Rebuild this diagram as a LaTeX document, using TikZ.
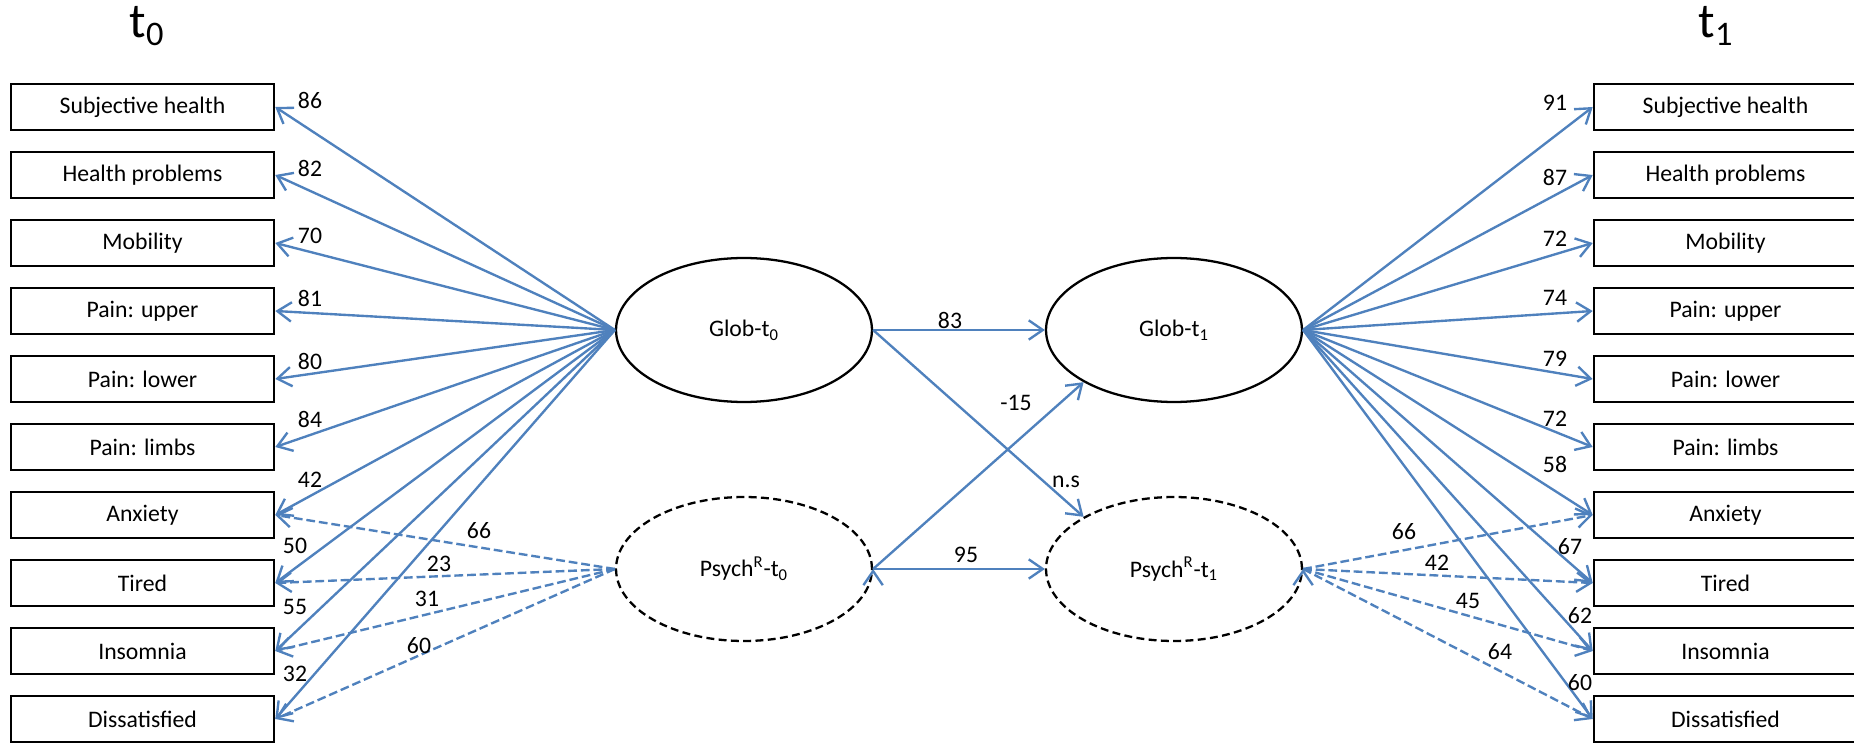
\documentclass[tikz,border=0pt]{standalone}
\usepackage{fontspec}
\setmainfont{Carlito}
\usepackage{tikz}
\usetikzlibrary{arrows.meta,shapes.geometric}
\definecolor{pathblue}{RGB}{79,129,189}
\tikzstyle{indicator}=[rectangle,
draw=black,
line width=1.5pt,
minimum width=5.26cm,
minimum height=0.92cm,
inner sep=0pt]
\tikzstyle{factor}=[ellipse,
draw=black,
line width=1.3pt,
minimum width=5.12cm,
minimum height=2.88cm,
inner sep=0pt]
\tikzstyle{residual}=[factor,
dash pattern=on 4.5pt off 2.5pt]
\tikzstyle{loading}=[->,
draw=pathblue,
line width=1.35pt]
\tikzstyle{resloading}=[loading,
dash pattern=on 5pt off 2.2pt]
\tikzstyle{coef}=[inner sep=0pt]
\tikzstyle{wave}=[inner sep=0pt,
font=\fontsize{28}{30}\selectfont]

\begin{document}
\begin{tikzpicture}[>={Straight Barb[length=8pt,width=11pt]},x=0.02cm,y=-0.02cm,
	font=\fontsize{13.5}{16}\selectfont]
	% one unit is one pixel of the original figure, y runs downwards
	\useasboundingbox (0,0) rectangle (1854,743);
	
	% The two measurement occasions:
	\node (tzero) [wave,anchor=base] at (147,38) {t\textsubscript{0}};
	\node (tone)  [wave,anchor=base] at (1716,38) {t\textsubscript{1}};
	
	% Indicators at t0 (left column):
	\node (l1)  [indicator] at (142.5,107) {Subjective health};
	\node (l2)  [indicator] at (142.5,175) {Health problems};
	\node (l3)  [indicator] at (142.5,243) {Mobility};
	\node (l4)  [indicator] at (142.5,311) {Pain: upper};
	\node (l5)  [indicator] at (142.5,379) {Pain: lower};
	\node (l6)  [indicator] at (142.5,447) {Pain: limbs};
	\node (l7)  [indicator] at (142.5,515) {Anxiety};
	\node (l8)  [indicator] at (142.5,583) {Tired};
	\node (l9)  [indicator] at (142.5,651) {Insomnia};
	\node (l10) [indicator] at (142.5,719) {Dissatisfied};
	
	% Indicators at t1 (right column):
	\node (r1)  [indicator] at (1725.5,107) {Subjective health};
	\node (r2)  [indicator] at (1725.5,175) {Health problems};
	\node (r3)  [indicator] at (1725.5,243) {Mobility};
	\node (r4)  [indicator] at (1725.5,311) {Pain: upper};
	\node (r5)  [indicator] at (1725.5,379) {Pain: lower};
	\node (r6)  [indicator] at (1725.5,447) {Pain: limbs};
	\node (r7)  [indicator] at (1725.5,515) {Anxiety};
	\node (r8)  [indicator] at (1725.5,583) {Tired};
	\node (r9)  [indicator] at (1725.5,651) {Insomnia};
	\node (r10) [indicator] at (1725.5,719) {Dissatisfied};
	
	% Latent factors:
	\node (glob0)  [factor]   at (744,330)  {Glob-t\textsubscript{0}};
	\node (glob1)  [factor]   at (1174,330) {Glob-t\textsubscript{1}};
	\node (psych0) [residual] at (744,569)  {Psych\textsuperscript{R}-t\textsubscript{0}};
	\node (psych1) [residual] at (1174,569) {Psych\textsuperscript{R}-t\textsubscript{1}};
	
	% Loadings of the general factor:
	\path[loading]
	(glob0.west) edge (l1.east)
	(glob0.west) edge (l2.east)
	(glob0.west) edge (l3.east)
	(glob0.west) edge (l4.east)
	(glob0.west) edge (l5.east)
	(glob0.west) edge (l6.east)
	(glob0.west) edge (l7.east)
	(glob0.west) edge (l8.east)
	(glob0.west) edge (l9.east)
	(glob0.west) edge (l10.east)
	(glob1.east) edge (r1.west)
	(glob1.east) edge (r2.west)
	(glob1.east) edge (r3.west)
	(glob1.east) edge (r4.west)
	(glob1.east) edge (r5.west)
	(glob1.east) edge (r6.west)
	(glob1.east) edge (r7.west)
	(glob1.east) edge (r8.west)
	(glob1.east) edge (r9.west)
	(glob1.east) edge (r10.west)
	% stability and cross-lagged paths
	(glob0.east)  edge (glob1.west)
	(glob0.east)  edge (psych1.150)
	(psych0.east) edge (glob1.210)
	(psych0.east) edge (psych1.west)
	;
	
	% Loadings of the residual factor:
	\path[resloading]
	(psych0.west) edge (l7.east)
	(psych0.west) edge (l8.east)
	(psych0.west) edge (l9.east)
	(psych0.west) edge (l10.east)
	(psych1.east) edge (r7.west)
	(psych1.east) edge (r8.west)
	(psych1.east) edge (r9.west)
	(psych1.east) edge (r10.west)
	;
	
	% Coefficients, t0 side:
	\node (c_l1)  [coef] at (310,100) {86};
	\node (c_l2)  [coef] at (310,168) {82};
	\node (c_l3)  [coef] at (310,236) {70};
	\node (c_l4)  [coef] at (310,298) {81};
	\node (c_l5)  [coef] at (310,361) {80};
	\node (c_l6)  [coef] at (310,419) {84};
	\node (c_l7)  [coef] at (310,480) {42};
	\node (c_l8)  [coef] at (295,546) {50};
	\node (c_l9)  [coef] at (295,607) {55};
	\node (c_l10) [coef] at (295,674) {32};
	\node (d_l7)  [coef] at (479,531) {66};
	\node (d_l8)  [coef] at (439,564) {23};
	\node (d_l9)  [coef] at (427,599) {31};
	\node (d_l10) [coef] at (419,646) {60};
	
	% Coefficients, t1 side:
	\node (c_r1)  [coef] at (1555,103) {91};
	\node (c_r2)  [coef] at (1555,177) {87};
	\node (c_r3)  [coef] at (1555,239) {72};
	\node (c_r4)  [coef] at (1555,298) {74};
	\node (c_r5)  [coef] at (1555,359) {79};
	\node (c_r6)  [coef] at (1555,419) {72};
	\node (c_r7)  [coef] at (1555,464) {58};
	\node (c_r8)  [coef] at (1570,547) {67};
	\node (c_r9)  [coef] at (1580,616) {62};
	\node (c_r10) [coef] at (1580,683) {60};
	\node (d_r7)  [coef] at (1404,532) {66};
	\node (d_r8)  [coef] at (1437,563) {42};
	\node (d_r9)  [coef] at (1468,601) {45};
	\node (d_r10) [coef] at (1500,652) {64};
	
	% Coefficients between the occasions:
	\node (c_gg) [coef] at (950,320)  {83};
	\node (c_pg) [coef] at (1016,403) {-15};
	\node (c_gp) [coef] at (1066,482) {n.s};
	\node (c_pp) [coef] at (966,555)  {95};
\end{tikzpicture}
\end{document}
